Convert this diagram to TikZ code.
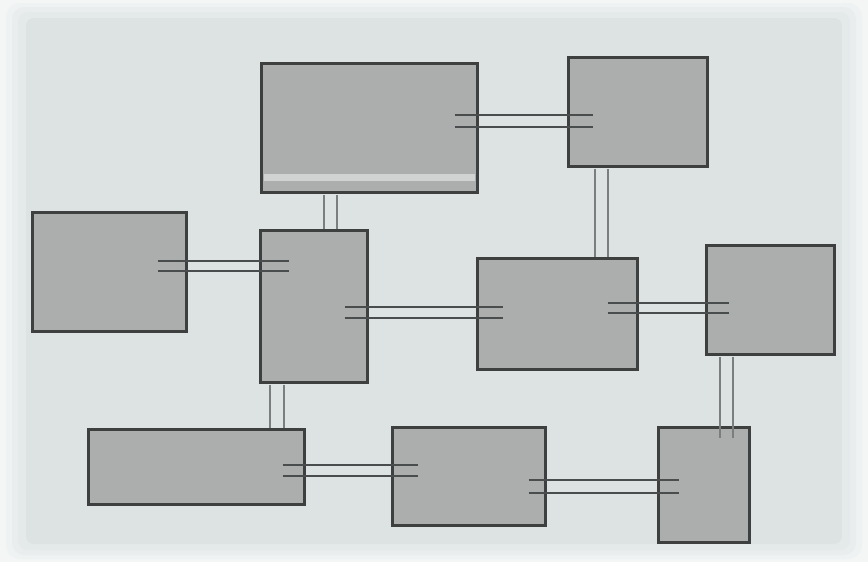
\documentclass[tikz,border=0pt]{standalone}
\usetikzlibrary{calc}
\definecolor{bgout}{HTML}{F4F6F6}
\definecolor{bgin}{HTML}{DDE3E3}
\definecolor{boxfill}{HTML}{ACAEAD}
\definecolor{boxline}{HTML}{3E4040}
\definecolor{connline}{HTML}{4A4D4D}
\definecolor{vconn}{HTML}{7A7E7E}
\tikzset{
  blk/.style={draw=boxline, fill=boxfill, line width=3.4pt, inner sep=0pt, outer sep=0pt},
  conn/.style={draw=connline, line width=1.4pt},
  vcon/.style={draw=vconn, line width=1.1pt}
}
\begin{document}
\begin{tikzpicture}[x=1pt,y=-1pt]
\useasboundingbox (0,0) rectangle (868,562);
% background with soft light edges
\fill[bgout] (0,0) rectangle (868,562);
\fill[bgin!20!bgout, rounded corners=14pt] (6,3) rectangle (862,559);
\fill[bgin!45!bgout, rounded corners=12pt] (12,7) rectangle (856,555);
\fill[bgin!70!bgout, rounded corners=10pt] (18,12) rectangle (850,550);
\fill[bgin, rounded corners=8pt] (26,18) rectangle (842,544);
% boxes
\node[blk, minimum width=216pt, minimum height=129pt] (A) at (369.5,128) {};
\node[blk, minimum width=139pt, minimum height=109pt] (B) at (638,112) {};
\node[blk, minimum width=107pt, minimum height=152pt] (C) at (314,306.5) {};
\node[blk, minimum width=154pt, minimum height=119pt] (D) at (109.5,272) {};
\node[blk, minimum width=160pt, minimum height=111pt] (E) at (557.5,314) {};
\node[blk, minimum width=128pt, minimum height=109pt] (F) at (770.5,300) {};
\node[blk, minimum width=216pt, minimum height=75pt] (G) at (196.5,467) {};
\node[blk, minimum width=153pt, minimum height=98pt] (H) at (469,476.5) {};
\node[blk, minimum width=91pt, minimum height=115pt] (J) at (704,485) {};
% light band near the bottom of A
\draw[draw=boxfill!55!white, line width=7pt] ([shift={(2.5,-15)}]A.south west) -- ([shift={(-2.5,-15)}]A.south east);
% horizontal double connectors
\draw[conn] ([shift={(-23,-13)}]A.east) -- ([shift={(24,3)}]B.west);
\draw[conn] ([shift={(-23,-1)}]A.east) -- ([shift={(24,15)}]B.west);
\draw[conn] ([shift={(-29,-11)}]D.east) -- ([shift={(28,-45.5)}]C.west);
\draw[conn] ([shift={(-29,-1)}]D.east) -- ([shift={(28,-35.5)}]C.west);
\draw[conn] ([shift={(-23,0.5)}]C.east) -- ([shift={(25,-7)}]E.west);
\draw[conn] ([shift={(-23,11.5)}]C.east) -- ([shift={(25,4)}]E.west);
\draw[conn] ([shift={(-30,-11)}]E.east) -- ([shift={(22,3)}]F.west);
\draw[conn] ([shift={(-30,-1)}]E.east) -- ([shift={(22,13)}]F.west);
\draw[conn] ([shift={(-22,-2)}]G.east) -- ([shift={(25,-11.5)}]H.west);
\draw[conn] ([shift={(-22,9)}]G.east) -- ([shift={(25,-0.5)}]H.west);
\draw[conn] ([shift={(-17,3.5)}]H.east) -- ([shift={(20,-5)}]J.west);
\draw[conn] ([shift={(-17,16.5)}]H.east) -- ([shift={(20,8)}]J.west);
% vertical double connectors
\draw[vcon] ([shift={(-45.5,2)}]A.south) -- ([shift={(10,-2)}]C.north);
\draw[vcon] ([shift={(-32.5,2)}]A.south) -- ([shift={(23,-2)}]C.north);
\draw[vcon] ([shift={(-43,2)}]B.south) -- ([shift={(37.5,-2)}]E.north);
\draw[vcon] ([shift={(-30,2)}]B.south) -- ([shift={(50.5,-2)}]E.north);
\draw[vcon] ([shift={(-50.5,2)}]F.south) -- ([shift={(16,10)}]J.north);
\draw[vcon] ([shift={(-37.5,2)}]F.south) -- ([shift={(29,10)}]J.north);
\draw[vcon] ([shift={(-44,2)}]C.south) -- ([shift={(73.5,-2)}]G.north);
\draw[vcon] ([shift={(-30,2)}]C.south) -- ([shift={(87.5,-2)}]G.north);
\end{tikzpicture}
\end{document}
